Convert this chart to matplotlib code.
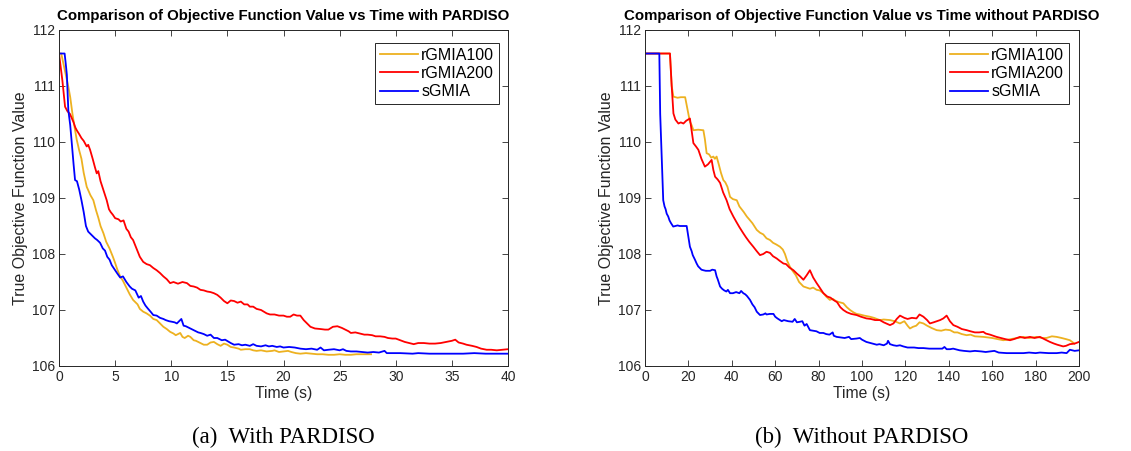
import numpy as np
import matplotlib.pyplot as plt

plt.rcParams['font.family'] = ['Liberation Sans', 'DejaVu Sans']

# (a) with PARDISO -- time in s, objective value
t_a_blue = [0, 0.5, 0.6, 0.7, 0.83, 1.0, 1.13, 1.3, 1.43, 1.6, 1.8, 2.0, 2.2, 2.4, 2.6, 2.8, 3.0, 3.2, 3.4,
            3.66, 3.9, 4.1, 4.3, 4.5, 4.7, 5.0, 5.2, 5.45, 5.7, 6.0, 6.3, 6.5, 6.8, 7.1, 7.3, 7.5, 7.7, 7.9,
            8.2, 8.4, 8.7, 9.0, 9.3, 9.5, 9.8, 10.06, 10.3, 10.5, 10.7, 10.9, 11.1, 11.3, 11.6, 11.8, 12.1,
            12.4, 12.6, 12.9, 13.2, 13.5, 13.8, 14.1, 14.5, 14.8, 15.3, 15.6, 16.0, 16.3, 16.6, 17.0, 17.3,
            17.6, 18.0, 18.4, 18.7, 19.0, 19.4, 19.7, 20.0, 20.5, 21.0, 21.5, 22.0, 22.5, 23.0, 23.3, 23.6,
            24.0, 24.5, 25.0, 25.3, 25.6, 26.0, 26.5, 27.0, 27.5, 28.0, 28.5, 29.0, 29.2, 29.5, 30.4, 31.5,
            32.0, 33.0, 34.0, 35.0, 36.0, 37.0, 38.0, 39.0, 40.0]
v_a_blue = [111.58, 111.58, 111.4, 111.2, 110.57, 110.3, 110.0, 109.6, 109.32, 109.3, 109.15, 108.96, 108.75,
            108.5, 108.4, 108.36, 108.32, 108.28, 108.25, 108.2, 108.1, 108.06, 107.95, 107.9, 107.8, 107.71,
            107.65, 107.58, 107.6, 107.5, 107.42, 107.38, 107.35, 107.22, 107.25, 107.15, 107.08, 107.03,
            106.96, 106.91, 106.9, 106.86, 106.84, 106.82, 106.8, 106.79, 106.78, 106.76, 106.8, 106.84,
            106.72, 106.71, 106.68, 106.66, 106.63, 106.6, 106.59, 106.57, 106.54, 106.56, 106.5, 106.5,
            106.46, 106.47, 106.41, 106.38, 106.39, 106.37, 106.38, 106.36, 106.39, 106.36, 106.35, 106.37,
            106.35, 106.36, 106.34, 106.35, 106.33, 106.34, 106.33, 106.31, 106.3, 106.31, 106.29, 106.33,
            106.28, 106.29, 106.3, 106.28, 106.3, 106.27, 106.26, 106.26, 106.25, 106.24, 106.25, 106.24,
            106.27, 106.23, 106.23, 106.23, 106.22, 106.23, 106.22, 106.22, 106.22, 106.22, 106.23, 106.22,
            106.22, 106.22]

t_a_yellow = [0, 0.2, 0.5, 0.83, 1.0, 1.2, 1.4, 1.58, 1.8, 2.0, 2.2, 2.47, 2.8, 3.06, 3.3, 3.5, 3.7, 3.96,
              4.2, 4.5, 4.8, 5.0, 5.2, 5.45, 5.7, 6.0, 6.3, 6.6, 6.8, 7.0, 7.2, 7.5, 7.8, 8.1, 8.4, 8.7, 9.0,
              9.3, 9.6, 9.9, 10.2, 10.4, 10.8, 11.0, 11.2, 11.5, 11.7, 12.0, 12.2, 12.6, 12.9, 13.2, 13.5,
              13.8, 14.1, 14.4, 14.7, 15.0, 15.3, 15.6, 16.0, 16.2, 16.6, 17.0, 17.3, 17.6, 18.0, 18.5, 19.0,
              19.2, 19.6, 20.0, 20.4, 20.7, 21.1, 21.5, 22.0, 22.5, 23.0, 23.5, 24.0, 24.5, 25.0, 25.5, 26.0,
              26.5, 27.0, 27.8]
v_a_yellow = [111.58, 111.58, 111.3, 110.99, 110.8, 110.5, 110.25, 110.04, 109.85, 109.7, 109.45, 109.2,
              109.05, 108.96, 108.78, 108.65, 108.5, 108.37, 108.22, 108.1, 107.95, 107.84, 107.72, 107.6,
              107.52, 107.4, 107.28, 107.18, 107.14, 107.1, 107.02, 106.97, 106.94, 106.9, 106.84, 106.82,
              106.76, 106.7, 106.66, 106.61, 106.58, 106.55, 106.59, 106.52, 106.5, 106.54, 106.52, 106.46,
              106.45, 106.41, 106.38, 106.38, 106.42, 106.43, 106.39, 106.36, 106.4, 106.38, 106.34, 106.33,
              106.31, 106.29, 106.3, 106.3, 106.28, 106.27, 106.28, 106.26, 106.27, 106.28, 106.25, 106.26,
              106.27, 106.25, 106.23, 106.22, 106.23, 106.22, 106.21, 106.21, 106.2, 106.2, 106.21, 106.2,
              106.2, 106.21, 106.21, 106.21]

t_a_red = [0, 0.3, 0.54, 0.75, 0.98, 1.15, 1.3, 1.45, 1.58, 1.8, 2.0, 2.2, 2.47, 2.6, 2.77, 3.0, 3.2, 3.36,
           3.5, 3.7, 3.96, 4.1, 4.25, 4.45, 4.6, 4.8, 5.0, 5.3, 5.5, 5.75, 6.0, 6.2, 6.4, 6.6, 6.8, 7.0, 7.2,
           7.5, 7.8, 8.1, 8.4, 8.7, 9.0, 9.3, 9.6, 9.9, 10.2, 10.6, 11.0, 11.4, 11.7, 12.0, 12.3, 12.6, 12.9,
           13.2, 13.5, 13.8, 14.1, 14.4, 14.7, 15.0, 15.3, 15.6, 15.9, 16.2, 16.5, 16.8, 17.0, 17.3, 17.6,
           18.0, 18.5, 18.8, 19.2, 19.6, 20.0, 20.3, 20.6, 20.9, 21.2, 21.5, 21.8, 22.1, 22.4, 22.8, 23.3,
           23.7, 24.0, 24.4, 24.8, 25.2, 25.4, 25.8, 26.0, 26.4, 26.8, 27.2, 27.5, 27.9, 28.2, 28.6, 29.0,
           29.3, 29.7, 30.0, 30.4, 30.8, 31.2, 31.6, 32.0, 32.5, 33.0, 33.5, 34.0, 34.5, 35.0, 35.3, 35.6,
           36.0, 36.3, 36.8, 37.2, 37.6, 38.1, 38.5, 39.0, 39.5, 40.0]
v_a_red = [111.58, 111.1, 110.63, 110.55, 110.5, 110.42, 110.35, 110.26, 110.21, 110.14, 110.07, 110.02,
           109.92, 109.95, 109.86, 109.7, 109.55, 109.44, 109.48, 109.3, 109.14, 109.06, 108.96, 108.8,
           108.75, 108.7, 108.64, 108.62, 108.58, 108.6, 108.45, 108.4, 108.3, 108.25, 108.15, 108.05,
           107.95, 107.86, 107.82, 107.8, 107.75, 107.71, 107.66, 107.6, 107.55, 107.48, 107.5, 107.47,
           107.5, 107.48, 107.43, 107.42, 107.4, 107.36, 107.35, 107.33, 107.32, 107.3, 107.27, 107.22,
           107.16, 107.12, 107.17, 107.16, 107.13, 107.15, 107.1, 107.1, 107.06, 107.06, 107.02, 107.0,
           106.94, 106.92, 106.92, 106.9, 106.9, 106.88, 106.88, 106.92, 106.9, 106.9, 106.82, 106.76,
           106.7, 106.67, 106.66, 106.65, 106.65, 106.7, 106.71, 106.68, 106.66, 106.62, 106.59, 106.6,
           106.58, 106.56, 106.56, 106.55, 106.53, 106.53, 106.52, 106.5, 106.49, 106.49, 106.46, 106.43,
           106.41, 106.39, 106.41, 106.41, 106.4, 106.4, 106.41, 106.43, 106.45, 106.47, 106.42, 106.4,
           106.38, 106.36, 106.34, 106.31, 106.29, 106.29, 106.28, 106.29, 106.3]

# (b) without PARDISO
t_b_blue = [0, 6.6, 7.0, 8.4, 9.0, 9.5, 10.0, 10.7, 11.3, 12.0, 12.5, 13.0, 14.0, 15.0, 16.0, 17.0, 18.0,
            19.2, 20.0, 20.7, 21.5, 22.0, 23.0, 23.8, 24.5, 25.0, 26.0, 26.9, 28.0, 30.0, 31.0, 32.3, 33.0,
            33.5, 34.6, 35.5, 36.5, 37.5, 38.2, 39.2, 40.5, 42.0, 43.5, 44.3, 45.3, 46.2, 47.0, 48.4, 49.5,
            50.5, 51.5, 53.0, 54.5, 55.5, 56.0, 57.5, 59.2, 60.0, 61.0, 62.2, 63.0, 64.0, 66.0, 68.0, 69.0,
            70.0, 71.4, 72.5, 73.5, 74.5, 76.0, 77.5, 79.0, 80.5, 82.2, 83.5, 85.0, 86.5, 87.0, 88.3, 90.0,
            92.0, 94.0, 95.0, 97.5, 99.0, 100.0, 102.0, 104.0, 106.8, 108.0, 110.0, 111.5, 112.0, 112.9,
            114.5, 116.0, 117.5, 119.0, 121.0, 124.0, 126.0, 128.3, 131.0, 134.0, 137.0, 138.0, 139.0, 140.6,
            142.0, 145.0, 147.0, 149.8, 152.0, 155.0, 157.0, 159.0, 161.0, 163.0, 166.7, 170.0, 174.4, 177.0,
            180.0, 182.0, 186.0, 189.7, 192.0, 194.3, 195.8, 198.0, 200.0]
v_b_blue = [111.58, 111.58, 110.5, 108.96, 108.85, 108.8, 108.72, 108.67, 108.6, 108.55, 108.52, 108.49,
            108.5, 108.51, 108.5, 108.5, 108.5, 108.5, 108.3, 108.13, 108.05, 107.98, 107.9, 107.83, 107.78,
            107.76, 107.72, 107.71, 107.7, 107.7, 107.72, 107.71, 107.6, 107.55, 107.42, 107.38, 107.35,
            107.33, 107.36, 107.3, 107.3, 107.32, 107.3, 107.34, 107.3, 107.28, 107.25, 107.18, 107.1, 107.05,
            106.97, 106.91, 106.92, 106.94, 106.92, 106.93, 106.93, 106.88, 106.85, 106.82, 106.8, 106.82,
            106.8, 106.79, 106.84, 106.78, 106.79, 106.8, 106.72, 106.75, 106.64, 106.63, 106.62, 106.59,
            106.59, 106.57, 106.56, 106.6, 106.54, 106.52, 106.51, 106.5, 106.52, 106.48, 106.49, 106.5,
            106.47, 106.43, 106.41, 106.38, 106.39, 106.37, 106.4, 106.45, 106.39, 106.37, 106.36, 106.37,
            106.35, 106.33, 106.33, 106.32, 106.32, 106.31, 106.31, 106.31, 106.34, 106.3, 106.3, 106.31,
            106.28, 106.27, 106.26, 106.27, 106.26, 106.25, 106.26, 106.27, 106.24, 106.23, 106.23, 106.23,
            106.24, 106.23, 106.24, 106.23, 106.23, 106.24, 106.23, 106.29, 106.27, 106.28]

t_b_yellow = [0, 11.5, 12.3, 13.1, 15.0, 16.5, 18.5, 19.5, 20.7, 21.5, 22.3, 24.5, 26.9, 27.6, 28.4, 29.5,
              30.5, 31.5, 32.2, 33.0, 34.0, 35.0, 36.1, 37.0, 38.0, 39.2, 40.5, 42.3, 43.5, 44.5, 45.5, 46.9,
              48.0, 49.5, 51.5, 53.0, 54.5, 56.0, 57.6, 59.0, 60.5, 62.2, 63.5, 64.5, 65.5, 66.8, 68.0, 69.5,
              71.0, 73.0, 74.5, 76.0, 77.5, 79.1, 80.5, 82.2, 83.5, 85.2, 86.5, 88.0, 89.5, 91.4, 93.0, 94.5,
              96.0, 97.5, 99.0, 101.0, 103.6, 105.5, 108.2, 110.0, 112.9, 115.0, 117.5, 119.5, 121.0, 122.1,
              123.5, 125.0, 126.5, 128.3, 130.0, 132.0, 134.4, 136.5, 138.5, 140.6, 142.5, 144.0, 146.0,
              148.2, 150.0, 152.0, 155.9, 158.0, 160.0, 162.5, 165.1, 167.0, 170.0, 172.0, 174.4, 177.0,
              180.5, 183.0, 185.0, 187.5, 189.7, 192.0, 194.0, 195.8, 197.9]
v_b_yellow = [111.58, 111.58, 111.0, 110.81, 110.79, 110.8, 110.8, 110.6, 110.36, 110.3, 110.21, 110.22,
              110.21, 110.05, 109.8, 109.78, 109.72, 109.74, 109.7, 109.74, 109.6, 109.45, 109.32, 109.28,
              109.2, 109.02, 108.98, 108.96, 108.85, 108.8, 108.75, 108.67, 108.62, 108.55, 108.43, 108.38,
              108.35, 108.28, 108.25, 108.2, 108.17, 108.13, 108.08, 108.0, 107.88, 107.77, 107.7, 107.62,
              107.5, 107.42, 107.4, 107.38, 107.4, 107.36, 107.35, 107.3, 107.24, 107.18, 107.2, 107.16,
              107.14, 107.12, 107.05, 107.0, 106.96, 106.93, 106.92, 106.9, 106.88, 106.86, 106.82, 106.83,
              106.82, 106.8, 106.76, 106.8, 106.72, 106.67, 106.7, 106.72, 106.78, 106.76, 106.72, 106.68,
              106.64, 106.63, 106.65, 106.64, 106.6, 106.6, 106.57, 106.55, 106.56, 106.53, 106.52, 106.51,
              106.5, 106.48, 106.46, 106.47, 106.49, 106.5, 106.52, 106.5, 106.52, 106.5, 106.5, 106.53,
              106.52, 106.5, 106.48, 106.46, 106.4]

t_b_red = [0, 11.5, 12.3, 13.1, 14.0, 15.4, 16.5, 17.7, 19.0, 20.7, 21.5, 22.3, 23.5, 24.6, 26.0, 27.6, 29.0,
           30.7, 31.5, 32.3, 33.5, 34.6, 36.0, 37.6, 39.0, 40.7, 42.0, 43.5, 45.3, 46.5, 48.0, 49.9, 51.5,
           53.0, 54.5, 56.0, 57.6, 59.0, 60.7, 62.0, 63.8, 65.0, 66.5, 68.4, 70.0, 71.5, 73.0, 74.5, 76.0,
           77.5, 79.1, 80.5, 82.2, 84.0, 85.5, 86.8, 88.5, 90.0, 91.4, 93.0, 95.0, 97.5, 99.5, 102.0, 104.0,
           106.0, 108.2, 110.0, 112.9, 114.5, 116.0, 117.5, 119.5, 121.0, 123.0, 125.1, 126.5, 128.3, 130.0,
           131.3, 133.0, 134.5, 136.0, 137.5, 139.0, 140.5, 142.1, 144.0, 146.0, 148.2, 150.0, 152.0, 154.0,
           155.9, 157.0, 159.0, 162.0, 164.0, 166.0, 168.2, 170.0, 172.8, 175.0, 177.4, 179.5, 182.0, 184.0,
           186.6, 188.5, 190.0, 192.7, 194.0, 195.8, 198.0, 200.0]
v_b_red = [111.58, 111.58, 111.0, 110.51, 110.4, 110.33, 110.35, 110.33, 110.38, 110.42, 110.2, 109.98,
           109.92, 109.86, 109.7, 109.56, 109.6, 109.68, 109.5, 109.38, 109.33, 109.27, 109.1, 108.96, 108.8,
           108.67, 108.58, 108.48, 108.37, 108.3, 108.22, 108.13, 108.05, 107.98, 108.0, 108.04, 108.02,
           107.96, 107.92, 107.88, 107.83, 107.82, 107.76, 107.71, 107.65, 107.6, 107.54, 107.62, 107.71,
           107.58, 107.48, 107.4, 107.3, 107.24, 107.22, 107.18, 107.14, 107.05, 107.0, 106.96, 106.93,
           106.91, 106.88, 106.85, 106.84, 106.82, 106.82, 106.78, 106.73, 106.76, 106.84, 106.9, 106.86,
           106.84, 106.86, 106.85, 106.92, 106.88, 106.82, 106.76, 106.78, 106.8, 106.82, 106.85, 106.9,
           106.8, 106.73, 106.7, 106.66, 106.64, 106.62, 106.6, 106.6, 106.61, 106.58, 106.56, 106.52, 106.5,
           106.48, 106.46, 106.48, 106.52, 106.5, 106.52, 106.5, 106.52, 106.48, 106.43, 106.4, 106.38,
           106.35, 106.36, 106.39, 106.4, 106.43]

yellow = '#EDB120'
red = '#FF0000'
blue = '#0000FF'
tick_col = '#262626'

fig = plt.figure(figsize=(11.31, 4.51), dpi=100)
ax1 = fig.add_axes([59 / 1131, 85 / 451, 449 / 1131, 336 / 451])
ax2 = fig.add_axes([645 / 1131, 85 / 451, 434 / 1131, 336 / 451])

panels = [
    (ax1, t_a_yellow, v_a_yellow, t_a_red, v_a_red, t_a_blue, v_a_blue, 40, 5, 0.98,
     'Comparison of Objective Function Value vs Time with PARDISO', '(a)  With PARDISO'),
    (ax2, t_b_yellow, v_b_yellow, t_b_red, v_b_red, t_b_blue, v_b_blue, 200, 20, 0.977,
     'Comparison of Objective Function Value vs Time without PARDISO', '(b)  Without PARDISO'),
]

for ax, ty, vy, tr, vr, tb, vb, xmax, xstep, leg_x, title, caption in panels:
    ax.plot(ty, vy, color=yellow, lw=1.3, label='rGMIA100')
    ax.plot(tr, vr, color=red, lw=1.3, label='rGMIA200')
    ax.plot(tb, vb, color=blue, lw=1.3, label='sGMIA')
    ax.set_xlim(0, xmax)
    ax.set_ylim(106, 112)
    ax.set_xticks(np.arange(0, xmax + 1, xstep))
    ax.set_yticks(np.arange(106, 113, 1))
    ax.tick_params(direction='in', top=True, right=True, length=4, width=0.6,
                   labelsize=10, colors=tick_col, labelcolor=tick_col, pad=3)
    for sp in ax.spines.values():
        sp.set_linewidth(0.7)
        sp.set_color(tick_col)
    ax.set_xlabel('Time (s)', fontsize=11.3, color=tick_col, labelpad=1)
    ax.set_ylabel('True Objective Function Value', fontsize=11.5, color=tick_col, labelpad=3)
    ax.set_title(title, fontsize=10.8, fontweight='bold', pad=7)
    leg = ax.legend(loc='upper right', bbox_to_anchor=(leg_x, 0.961), borderaxespad=0,
                    fontsize=11.5, frameon=True, fancybox=False, framealpha=1,
                    handlelength=2.4, handletextpad=0.2, labelspacing=0.2, borderpad=0.3)
    leg.get_frame().set_edgecolor(tick_col)
    leg.get_frame().set_linewidth(0.7)
    pos = ax.get_position()
    fig.text(pos.x0 + pos.width / 2, 14 / 451, caption, ha='center', va='center',
             fontsize=16.5, family='Liberation Serif')

fig.savefig('out.png', dpi=100)
